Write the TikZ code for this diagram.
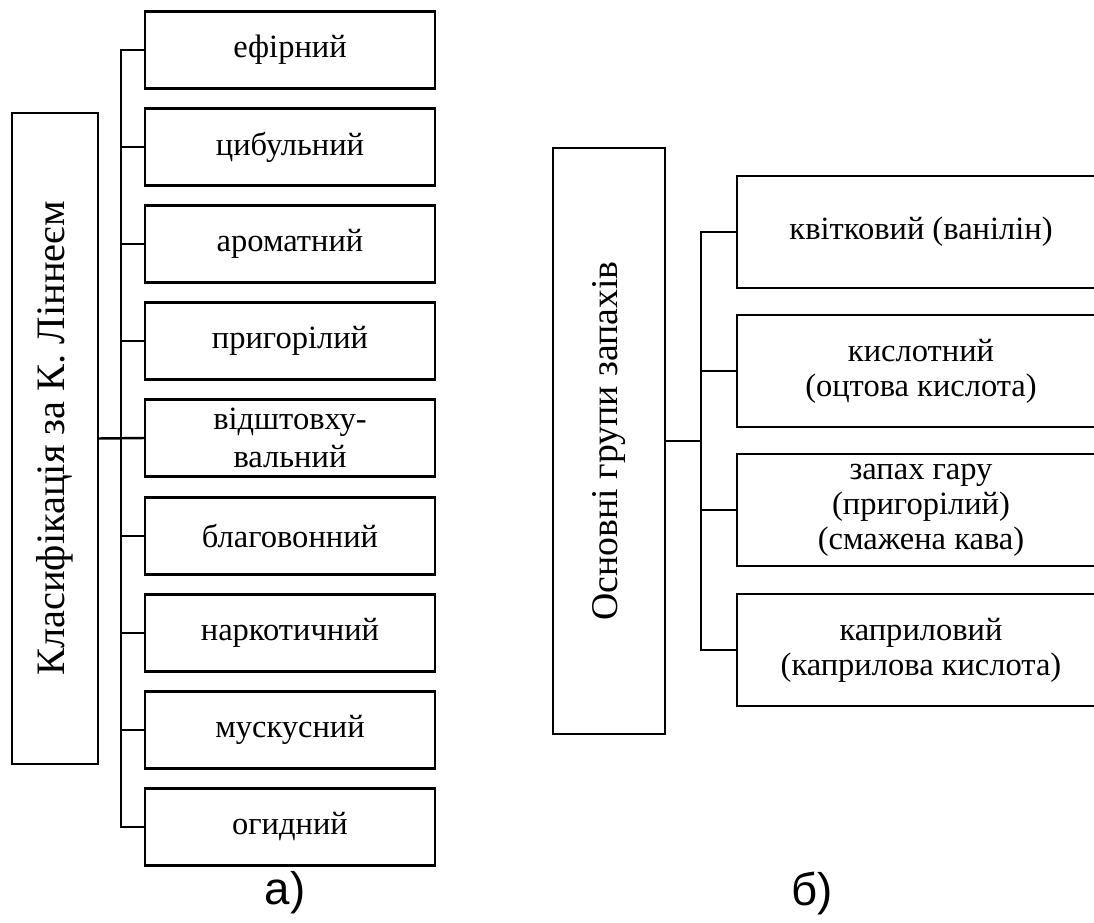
\documentclass[tikz,border=0pt]{standalone}
\usepackage{fontspec}
\setmainfont{Liberation Serif}
\newfontfamily\capfont{Liberation Sans}
\usepackage{tikz}
\usetikzlibrary{positioning,calc}

\begin{document}
\begin{tikzpicture}[x=0.02cm,y=-0.02cm,line width=1.4pt,
  font=\fontsize{18.5}{20}\selectfont,
  lbox/.style={draw,minimum width=5.8cm,minimum height=1.54cm,align=center,inner sep=0pt},
  rbox/.style={draw,minimum width=7.36cm,minimum height=2.24cm,align=center,inner sep=0pt},
  headbox/.style={draw,rotate=90,inner sep=0pt},
  caption/.style={font=\capfont\fontsize{26}{30}\selectfont}]
\useasboundingbox (0,0) rectangle (1094,922);

% a) classification by Linnaeus
\node[headbox,minimum width=13.02cm,minimum height=1.72cm,font=\fontsize{23}{26}\selectfont] (lhead) at (55,438.5) {Класифікація за К. Ліннеєм};
\node[lbox] (l1) at (290,50) {ефірний};
\node[lbox] (l2) at (290,147) {цибульний};
\node[lbox] (l3) at (290,244) {ароматний};
\node[lbox] (l4) at (290,341) {пригорілий};
\node[lbox] (l5) at (290,438) {відштовху-\\[2pt]вальний};
\node[lbox] (l6) at (290,536) {благовонний};
\node[lbox] (l7) at (290,633) {наркотичний};
\node[lbox] (l8) at (290,730) {мускусний};
\node[lbox] (l9) at (290,827) {огидний};

\draw (l1.west) -- ++(-23,0) |- (l9.west);
\draw (lhead.south) -- (l5.west);
\draw (l2.west) -- ++(-23,0);
\draw (l3.west) -- ++(-23,0);
\draw (l4.west) -- ++(-23,0);
\draw (l6.west) -- ++(-23,0);
\draw (l7.west) -- ++(-23,0);
\draw (l8.west) -- ++(-23,0);

% b) main groups
\node[headbox,minimum width=11.72cm,minimum height=2.24cm,font=\fontsize{21.5}{24}\selectfont] (rhead) at (609,441) {Основні групи запахів};
\node[rbox] (r1) at (921,232) {квітковий (ванілін)};
\node[rbox] (r2) at (921,371) {кислотний\\(оцтова кислота)};
\node[rbox] (r3) at (921,510) {запах гару\\(пригорілий)\\(смажена кава)};
\node[rbox] (r4) at (921,650) {каприловий\\(каприлова кислота)};

\coordinate[left=0.7cm of r1.west] (rjoin);
\draw (r1.west) -- (rjoin) |- (r4.west);
\draw (r2.west) -- ++(-35,0);
\draw (r3.west) -- ++(-35,0);
\draw (rhead.south) -- (rhead.south -| rjoin);

\node[caption] (capa) at (285,893) {а)};
\node[caption] (capb) at (812,893) {б)};
\end{tikzpicture}
\end{document}
